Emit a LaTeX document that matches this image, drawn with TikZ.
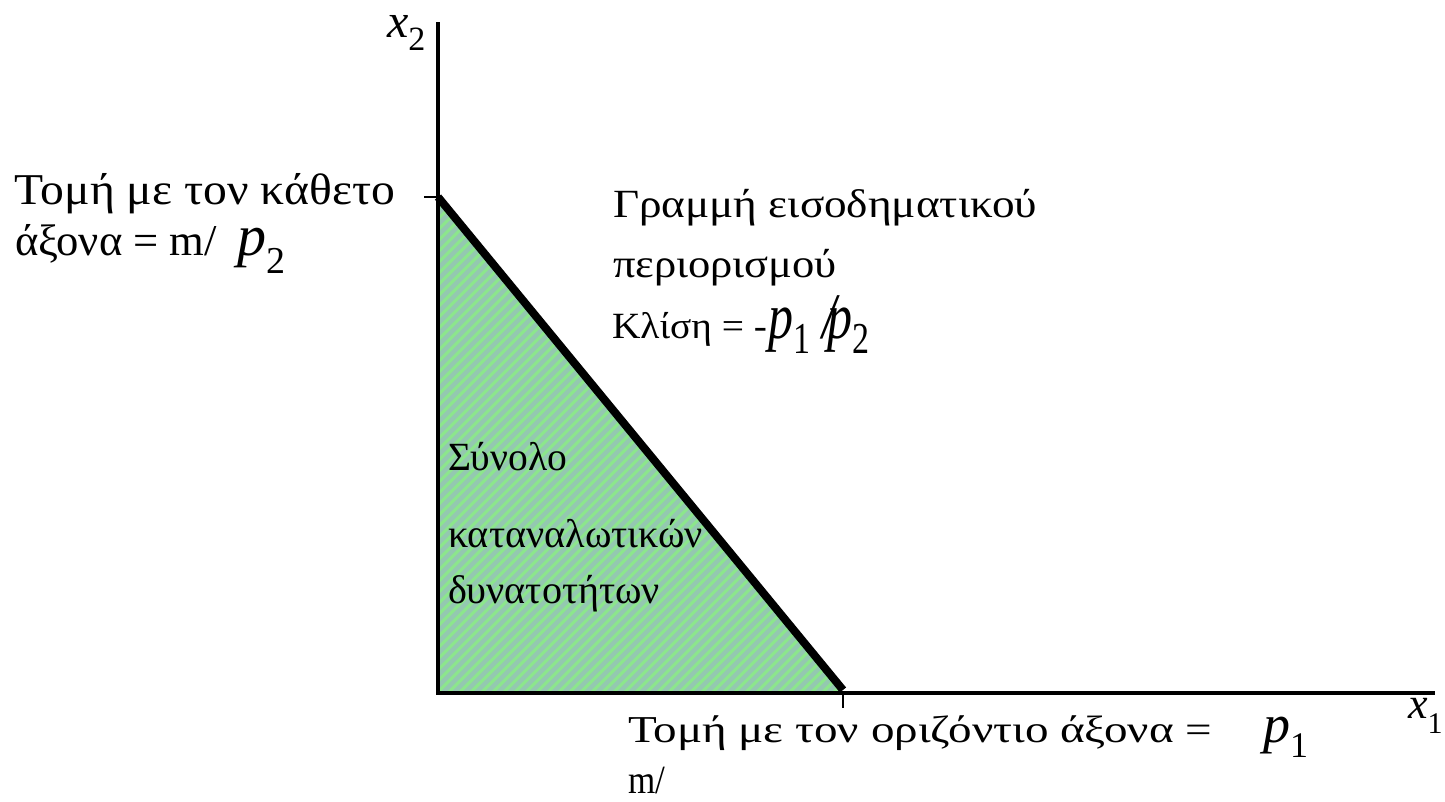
\documentclass[tikz,border=0pt]{standalone}
\usepackage{fontspec}
\setmainfont{Liberation Serif}
\usepackage{graphicx}
\newcommand\fs[1]{\fontsize{#1}{#1}\selectfont}
% variable with subscript: size of letter, letter, size of sub, sub, drop
\newcommand\myvar[5]{{\fs{#1}\itshape #2}\raisebox{-#5pt}{\fs{#3}#4}}
% text set to a given width, keeping its height
\newcommand\wtext[3]{\resizebox{#1pt}{\height}{\fs{#2}#3}}
\begin{document}
\begin{tikzpicture}[x=1pt,y=-1pt,
  lbl/.style={anchor=base west,inner sep=0pt,outer sep=0pt},
  axis/.style={line width=3.2pt},
  budget/.style={line width=8pt},
  stripe/.style={draw=stripegreen,line width=2.9pt},
  tick/.style={line width=1.6pt}]
\definecolor{basegreen}{RGB}{148,200,176}
\definecolor{stripegreen}{RGB}{140,230,140}
\useasboundingbox (0,0) rectangle (1445,801);
\coordinate (O) at (438,693);
\coordinate (Ytop) at (438,22);
\coordinate (Xend) at (1435,693);
\coordinate (A) at (438,197);
\coordinate (B) at (843,690);
\coordinate (At) at (424,197);
\coordinate (Bt) at (843,708);
% feasible set
\fill[basegreen] (A) -- (O) -- (843,693) -- cycle;
\begin{scope}
  \clip (A) -- (O) -- (843,693) -- cycle;
  \foreach \k in {0,...,95}{
    \draw[stripe] ({-120+11*\k},700) -- ++(540,-540);
  }
\end{scope}
% axes
\draw[axis] (Ytop) -- (O) -- (Xend);
\draw[tick] (At) -- (A);
\draw[tick] (O -| Bt) -- (Bt);
% budget line
\draw[budget] (A) -- (B);
% labels
\node[lbl] (x2) at (387,37) {\myvar{48}{x}{34}{2}{13}};
\node[lbl] (x1) at (1408,718) {\myvar{44}{x}{30}{1}{15}};
\node[lbl] (vt1) at (15,204) {\wtext{380}{44}{Τομή με τον κάθετο}};
\node[lbl] (vt2) at (15,255) {\makebox[222pt][l]{\wtext{202}{44}{άξονα = m/}}\myvar{58}{p}{38}{2}{18}};
\node[lbl] (bl1) at (613,217) {\wtext{424}{40}{Γραμμή εισοδηματικού}};
\node[lbl] (bl2) at (613,277) {\wtext{224}{40}{περιορισμού}};
\node[lbl] (bl3) at (612,338) {\makebox[156pt][l]{\wtext{155}{37}{Κλίση = -}}\makebox[54pt][l]{\scalebox{1}[1.3]{\myvar{50}{p}{34}{1}{12}}}\scalebox{1}[1.3]{\rlap{\fs{50}\itshape /}\kern5pt\myvar{50}{p}{34}{2}{12}}};
\node[lbl] (fs1) at (448,470) {\wtext{119}{40}{Σύνολο}};
\node[lbl] (fs2) at (448,547) {\wtext{255}{40}{καταναλωτικών}};
\node[lbl] (fs3) at (448,603) {\wtext{212}{40}{δυνατοτήτων}};
\node[lbl] (ht1) at (628,742) {\wtext{584}{38}{Τομή με τον οριζόντιο άξονα =}};
\node[lbl] (ht2) at (628,793) {\wtext{37}{40}{m/}};
\node[lbl] (hp) at (1263,742) {\myvar{54}{p}{36}{1}{15}};
\end{tikzpicture}
\end{document}
